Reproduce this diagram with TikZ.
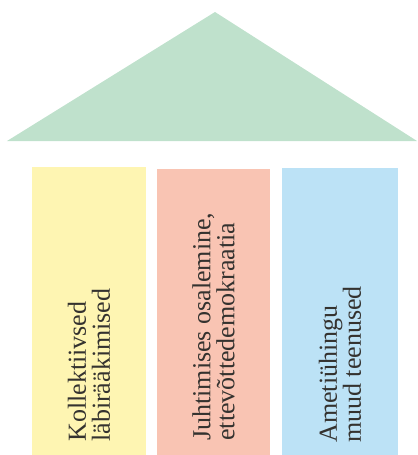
\documentclass[tikz,border=0pt]{standalone}
\usepackage{fontspec}
\setmainfont{Liberation Serif}
\usetikzlibrary{positioning,calc}

\definecolor{roofgreen}{HTML}{BFE1CC}
\definecolor{pillaryellow}{HTML}{FEF5B2}
\definecolor{pillarred}{HTML}{F9C4B3}
\definecolor{pillarblue}{HTML}{BCE2F6}
\definecolor{textgray}{HTML}{34322F}

\tikzset{
    pillartext/.style={rotate=90,anchor=west,inner sep=0pt,align=left,
        text=textgray,font=\fontsize{19.5}{18}\selectfont}
}

\begin{document}
\begin{tikzpicture}[x=0.75pt,y=-0.75pt]
        \useasboundingbox (0,0) rectangle (418,455);

        %%%% Roof =====================================
        \coordinate (apex) at (215,12);
        \coordinate (eaveL) at (7,141);
        \coordinate (eaveR) at (417,141);
        \fill[roofgreen] (apex) -- (eaveL) -- (eaveR) -- cycle;

        %%%% Pillars ==================================
        \fill[pillaryellow] (32,167) rectangle (146,455);
        \fill[pillarred] (157,169) rectangle (270,455);
        \fill[pillarblue] (282,168) rectangle (398,455);

        % Labels
        \node[pillartext] (bargain) at (89,442) {Kollektiivsed\\läbirääkimised};
        \node[pillartext] (democracy) at (213.5,441) {Juhtimises osalemine,\\ettevõttedemokraatia};
        \node[pillartext] (services) at (340,443) {Ametiühingu\\muud teenused};
    \end{tikzpicture}
\end{document}
